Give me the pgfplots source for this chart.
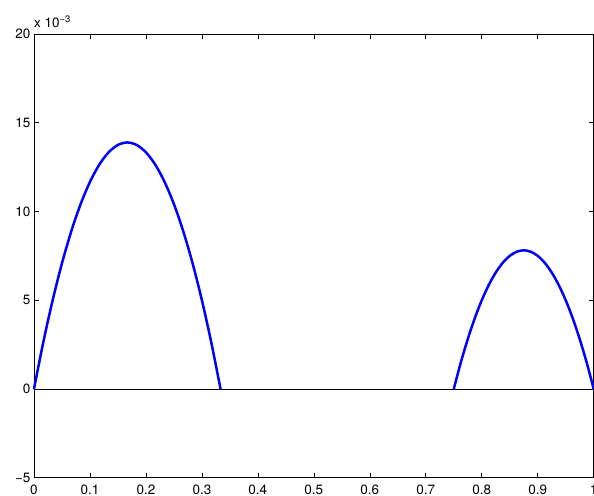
\documentclass[border=0pt]{standalone}
\usepackage{pgfplots}
\pgfplotsset{compat=1.18}
\usepackage{fontspec}
\setmainfont{TeX Gyre Heros}
\begin{document}
\begin{tikzpicture}
\begin{axis}[
  scale only axis, width=560pt, height=444pt,
  xmin=0, xmax=1, ymin=-5, ymax=20,
  xtick={0,0.1,0.2,0.3,0.4,0.5,0.6,0.7,0.8,0.9,1},
  xticklabels={0,0.1,0.2,0.3,0.4,0.5,0.6,0.7,0.8,0.9,1},
  ytick={-5,0,5,10,15,20},
  yticklabels={\textminus 5,0,5,10,15,20},
  tick align=inside, tick pos=both, ticklabel pos=left,
  major tick length=5pt,
  axis line style={black, line width=0.6pt},
  every tick/.style={black, line width=0.6pt},
  tick label style={font=\fontsize{13.5}{16}\selectfont},
  xticklabel style={yshift=-4pt},
  /pgf/number format/assume math mode=true,
  clip=false,
]
\addplot[black, line width=0.6pt] coordinates {(0,0) (1,0)};
\addplot[blue, line width=2.5pt, smooth, tension=0.5] coordinates {
(0,0) (0.016667,2.6389) (0.033333,5.0) (0.05,7.0833) (0.066667,8.8889)
(0.083333,10.4167) (0.1,11.6667) (0.116667,12.6389) (0.133333,13.3333)
(0.15,13.75) (0.166667,13.8889) (0.183333,13.75) (0.2,13.3333)
(0.216667,12.6389) (0.233333,11.6667) (0.25,10.4167) (0.266667,8.8889)
(0.283333,7.0833) (0.3,5.0) (0.316667,2.6389) (0.333333,0)};
\addplot[blue, line width=2.5pt, smooth, tension=0.5] coordinates {
(0.75,0) (0.7625,1.4844) (0.775,2.8125) (0.7875,3.9844) (0.8,5.0)
(0.8125,5.8594) (0.825,6.5625) (0.8375,7.1094) (0.85,7.5) (0.8625,7.7344)
(0.875,7.8125) (0.8875,7.7344) (0.9,7.5) (0.9125,7.1094) (0.925,6.5625)
(0.9375,5.8594) (0.95,5.0) (0.9625,3.9844) (0.975,2.8125) (0.9875,1.4844) (1,0)};
\node[anchor=south west, inner sep=0pt, font=\fontsize{13.5}{16}\selectfont] at ([yshift=6pt]rel axis cs:0,1) {x 10\textsuperscript{\textminus 3}};
\end{axis}
\pgfresetboundingbox
\path[use as bounding box] ([xshift=-34pt,yshift=-18pt]current axis.south west) rectangle ([xshift=0.3pt,yshift=34pt]current axis.north east);
\end{tikzpicture}
\end{document}
